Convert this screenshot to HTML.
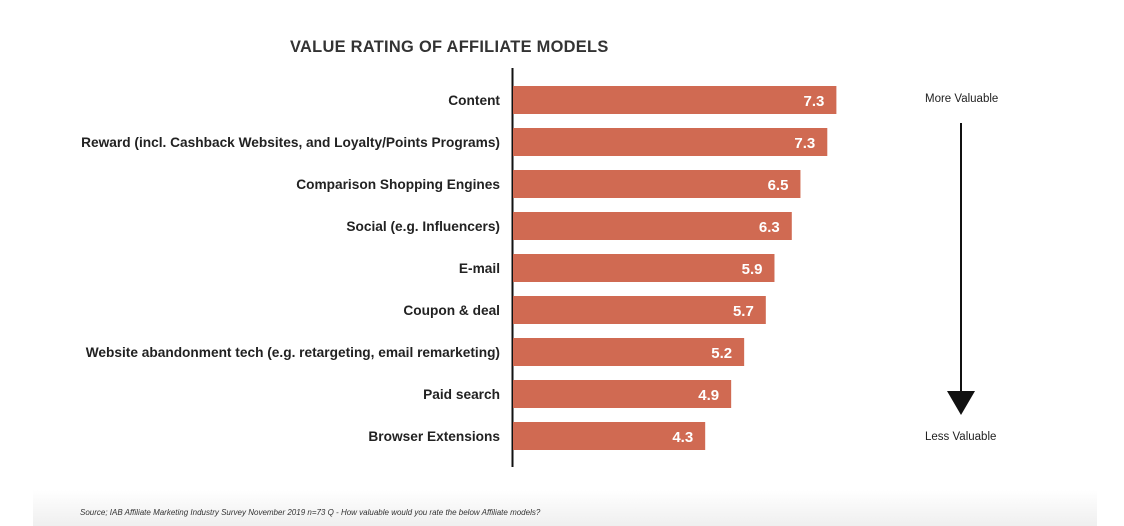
<!DOCTYPE html>
<html><head><meta charset="utf-8">
<style>
html,body{margin:0;padding:0;background:#fff;}
body{width:1124px;height:526px;position:relative;overflow:hidden;font-family:"Liberation Sans",sans-serif;}
</style></head>
<body>
<div style="position:absolute;left:33px;top:490px;width:1064px;height:36px;background:linear-gradient(#fff,#efefef);"></div>
<svg id="chart" width="1124" height="526" style="position:absolute;left:0;top:0">
<text x="290" y="52" font-size="16.4" font-weight="bold" fill="#333" letter-spacing="0.3">VALUE RATING OF AFFILIATE MODELS</text>
<line x1="512.5" y1="68" x2="512.5" y2="467" stroke="#111" stroke-width="2"/>
<text x="925" y="102" font-size="11.5" fill="#222">More Valuable</text>
<text x="925" y="440" font-size="11.5" fill="#222">Less Valuable</text>
<line x1="961" y1="123" x2="961" y2="396" stroke="#111" stroke-width="2"/>
<polygon points="947,391 975,391 961,415" fill="#111"/>
<text x="80" y="515" font-size="8" font-style="italic" fill="#333">Source; IAB Affiliate Marketing Industry Survey November 2019 n=73 Q - How valuable would you rate the below Affiliate models?</text>
<g id="bars"></g>
</svg>
<script>
const categories=["Content","Reward (incl. Cashback Websites, and Loyalty/Points Programs)","Comparison Shopping Engines","Social (e.g. Influencers)","E-mail","Coupon & deal","Website abandonment tech (e.g. retargeting, email remarketing)","Paid search","Browser Extensions"];
const values=[7.33,7.12,6.5,6.3,5.9,5.7,5.2,4.9,4.3];
const valueLabels=["7.3","7.3","6.5","6.3","5.9","5.7","5.2","4.9","4.3"];
function xScale(v){return 519+v*43.3;}
function yScale(i){return 86+i*42;}
const g=document.getElementById('bars');
const ns="http://www.w3.org/2000/svg";
categories.forEach((c,i)=>{
  const y=yScale(i);
  const r=document.createElementNS(ns,'rect');
  
  
  r.setAttribute('x',513);r.setAttribute('y',y);
  r.setAttribute('width',xScale(values[i])-513);r.setAttribute('height',28);
  r.setAttribute('fill','#d06a52');
  g.appendChild(r);
  const t=document.createElementNS(ns,'text');
  
  
  t.setAttribute('x',xScale(values[i])-12);t.setAttribute('y',y+20);
  t.setAttribute('text-anchor','end');t.setAttribute('font-size','15');
  t.setAttribute('font-weight','bold');t.setAttribute('fill','#fff');
  t.textContent=valueLabels[i];
  g.appendChild(t);
  const l=document.createElementNS(ns,'text');
  
  
  l.setAttribute('x',500);l.setAttribute('y',y+19);
  l.setAttribute('text-anchor','end');l.setAttribute('font-size','13.7');
  l.setAttribute('font-weight','bold');l.setAttribute('fill','#222');
  l.textContent=c;
  g.appendChild(l);
});
</script>
</body></html>
